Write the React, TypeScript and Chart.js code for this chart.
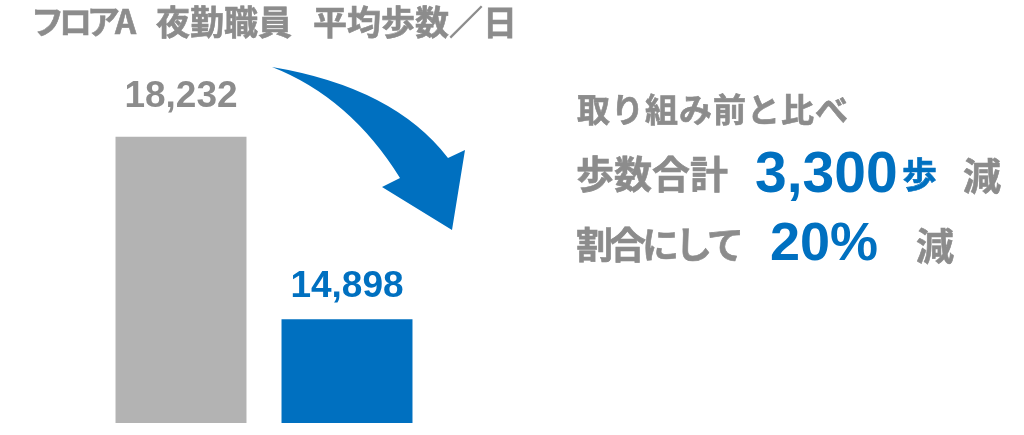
import React, { useEffect, useRef } from "react";
import { Chart, registerables } from "chart.js";

Chart.register(...registerables);

// ---- data ----
const categories = ["取り組み前", "取り組み後"];
const avgSteps = [18232, 14898];
const yMin = 13000;
const yMax = 20000;

const titleParts = ["フロアA", "夜勤職員", "平均歩数／日"];
const compareLine = "取り組み前と比べ";
const totalLabel = "歩数合計";
const totalValue = "3,300";
const totalUnit = "歩";
const decreaseWord = "減";
const ratioLabel = "割合にして";
const ratioValue = "20%";

// ---- styles ----
const GRAY_TEXT = "#8C8C8C";
const BLUE = "#0070C0";
const barColors = ["#B3B3B3", BLUE];
const labelColors = [GRAY_TEXT, BLUE];
const labelGaps = [30, 22];
const JP = "'Noto Sans CJK JP', 'Noto Sans', sans-serif";
const NUM = "'Liberation Sans', Arial, sans-serif";

const valueLabelPlugin = {
  id: "valueLabels",
  afterDatasetsDraw(chart: any) {
    const ctx = chart.ctx;
    const meta = chart.getDatasetMeta(0);
    ctx.save();
    ctx.font = `bold 37px ${NUM}`;
    ctx.textAlign = "center";
    ctx.textBaseline = "alphabetic";
    meta.data.forEach((bar: any, i: number) => {
      const v = chart.data.datasets[0].data[i] as number;
      ctx.fillStyle = labelColors[i];
      ctx.fillText(v.toLocaleString("en-US"), bar.x, bar.y - labelGaps[i]);
    });
    ctx.restore();
  },
};

const arrowPlugin = {
  id: "curvedArrow",
  afterDraw(chart: any) {
    const ctx = chart.ctx;
    ctx.save();
    ctx.fillStyle = BLUE;
    ctx.beginPath();
    ctx.moveTo(272, 67);
    ctx.quadraticCurveTo(394, 87.5, 448, 158);
    ctx.lineTo(465, 150);
    ctx.lineTo(452, 230);
    ctx.lineTo(382, 187);
    ctx.lineTo(400, 178);
    ctx.quadraticCurveTo(350, 97.5, 272, 67);
    ctx.closePath();
    ctx.fill();
    ctx.restore();
  },
};

function ChartCanvas() {
  const ref = useRef<HTMLCanvasElement | null>(null);
  useEffect(() => {
    if (!ref.current) return;
    const chart = new Chart(ref.current, {
      type: "bar",
      data: {
        labels: categories,
        datasets: [
          {
            data: avgSteps,
            backgroundColor: barColors,
            borderWidth: 0,
            barPercentage: 0.789,
            categoryPercentage: 1,
          },
        ],
      },
      options: {
        responsive: false,
        animation: false,
        devicePixelRatio: 1,
        layout: { padding: { left: 98, right: 594, top: 40, bottom: 12 } },
        plugins: {
          legend: { display: false },
          tooltip: { enabled: false },
          title: { display: false },
        },
        scales: {
          x: { display: false, grid: { display: false } },
          y: { display: false, min: yMin, max: yMax, grid: { display: false } },
        },
      },
      plugins: [valueLabelPlugin, arrowPlugin],
    });
    return () => chart.destroy();
  }, []);
  return <canvas ref={ref} width={1024} height={435} style={{ position: "absolute", left: 0, top: 0 }} />;
}

const abs = (left: number, top: number, size: number, color: string, family: string, extra: any = {}) => ({
  position: "absolute" as const,
  left,
  top,
  fontSize: size,
  lineHeight: 1,
  fontWeight: 700,
  color,
  fontFamily: family,
  whiteSpace: "nowrap" as const,
  margin: 0,
  ...extra,
});

const heavy = (color: string, w = 0.6) => ({ WebkitTextStroke: `${w}px ${color}` });

export default function App() {
  return (
    <div style={{ position: "fixed", left: 0, top: 0, width: 1024, height: 435, background: "#fff", overflow: "hidden" }}>
      <ChartCanvas />
      <div style={abs(31, 4, 33, GRAY_TEXT, JP, { letterSpacing: -5, ...heavy(GRAY_TEXT) })}>{titleParts[0]}</div>
      <div style={abs(156, 4, 34, GRAY_TEXT, JP, heavy(GRAY_TEXT))}>{titleParts[1]}</div>
      <div style={abs(313, 4, 34, GRAY_TEXT, JP, heavy(GRAY_TEXT))}>{titleParts[2]}</div>

      <div style={abs(577, 92, 33, GRAY_TEXT, JP, { letterSpacing: 1, ...heavy(GRAY_TEXT) })}>{compareLine}</div>

      <div style={abs(576, 153, 38, GRAY_TEXT, JP, heavy(GRAY_TEXT))}>{totalLabel}</div>
      <div style={abs(755, 144, 57, BLUE, NUM)}>{totalValue}</div>
      <div style={abs(902, 155, 35, BLUE, JP, heavy(BLUE))}>{totalUnit}</div>
      <div style={abs(963, 155, 38, GRAY_TEXT, JP, heavy(GRAY_TEXT))}>{decreaseWord}</div>

      <div style={abs(576, 225, 37, GRAY_TEXT, JP, { letterSpacing: -4, ...heavy(GRAY_TEXT) })}>{ratioLabel}</div>
      <div style={abs(770, 214, 54, BLUE, NUM)}>{ratioValue}</div>
      <div style={abs(916, 225, 38, GRAY_TEXT, JP, heavy(GRAY_TEXT))}>{decreaseWord}</div>
    </div>
  );
}
